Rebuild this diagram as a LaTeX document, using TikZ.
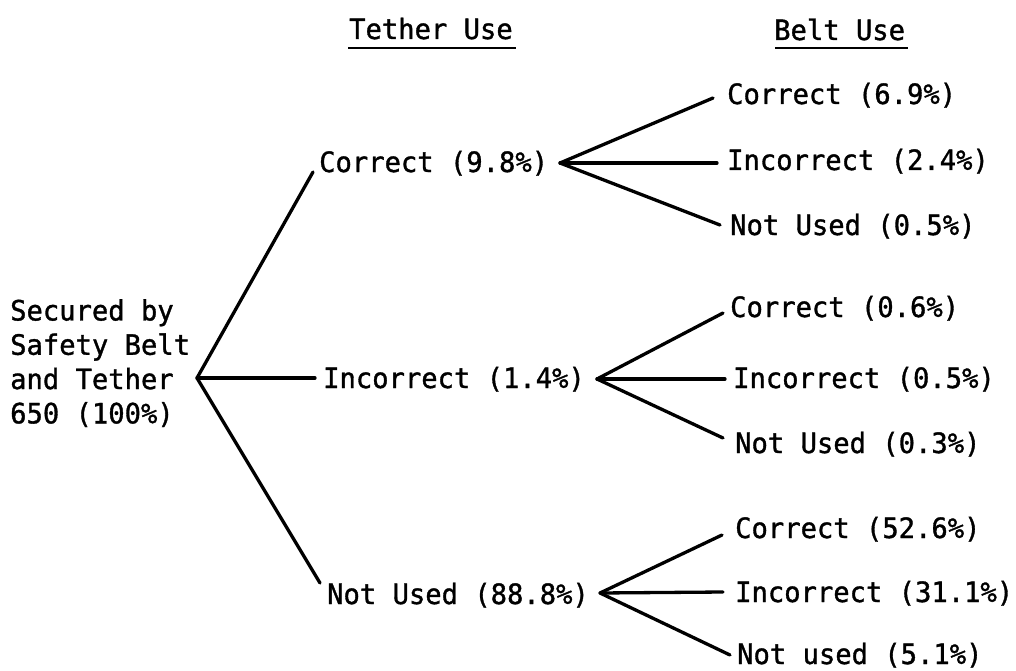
\documentclass[tikz,border=0pt]{standalone}
\usepackage{fontspec}
\usetikzlibrary{calc}
\newfontfamily\dmono[FakeStretch=0.97,FakeBold=1.2]{DejaVu Sans Mono}
\begin{document}
\begin{tikzpicture}[x=1pt,y=-1pt,
  lbl/.style={font=\dmono\fontsize{28}{34.3}\selectfont, inner sep=0pt, anchor=base west},
  branch/.style={line width=3.3pt, line cap=round, line join=round},
  uline/.style={line width=2.6pt}]
\useasboundingbox (0,0) rectangle (1016,671);
% headers
\node[lbl] (h1) at (349,39) {Tether Use};
\node[lbl] (h2) at (774,40) {Belt Use};
\draw[uline] ($(h1.base west)+(-1,9)$) -- ($(h1.base east)+(3,9)$);
\draw[uline] ($(h2.base west)+(1,8)$) -- ($(h2.base east)+(3,8)$);
% root
\node[lbl, anchor=north west, align=left] (root) at (10,299) {Secured by\\Safety Belt\\and Tether\\650 (100\%)};
% tether level
\node[lbl] (t1) at (319,172) {Correct (9.8\%)};
\node[lbl] (t2) at (323,388) {Incorrect (1.4\%)};
\node[lbl] (t3) at (327,604) {Not Used (88.8\%)};
% belt level
\node[lbl] (b11) at (727,104) {Correct (6.9\%)};
\node[lbl] (b12) at (727,170) {Incorrect (2.4\%)};
\node[lbl] (b13) at (730,235) {Not Used (0.5\%)};
\node[lbl] (b21) at (730,317) {Correct (0.6\%)};
\node[lbl] (b22) at (733,388) {Incorrect (0.5\%)};
\node[lbl] (b23) at (735,453) {Not Used (0.3\%)};
\node[lbl] (b31) at (735,538) {Correct (52.6\%)};
\node[lbl] (b32) at (735,602) {Incorrect (31.1\%)};
\node[lbl] (b33) at (737,664) {Not used (5.1\%)};
% vertices
\coordinate (v0) at (197,378);
\coordinate (v1) at (560,163);
\coordinate (v2) at (597,379);
\coordinate (v3) at (600,593);
% connectors
\draw[branch] ($(t1.base west)+(-6,0)$) -- (v0) -- ($(t3.base west)+(-7,-21)$);
\draw[branch] (v0) -- ($(t2.base west)+(-8,-10)$);
\draw[branch] ($(b11.base west)+(-14,-6)$) -- (v1) -- ($(b13.base west)+(-10,-10)$);
\draw[branch] (v1) -- ($(b12.base west)+(-10,-7)$);
\draw[branch] ($(b21.base west)+(-7,-4)$) -- (v2) -- ($(b23.base west)+(-12,-15)$);
\draw[branch] (v2) -- ($(b22.base west)+(-8,-9)$);
\draw[branch] ($(b31.base west)+(-13,-3)$) -- (v3) -- ($(b33.base west)+(-7,-9)$);
\draw[branch] (v3) -- ($(b32.base west)+(-12,-10)$);
\end{tikzpicture}
\end{document}
